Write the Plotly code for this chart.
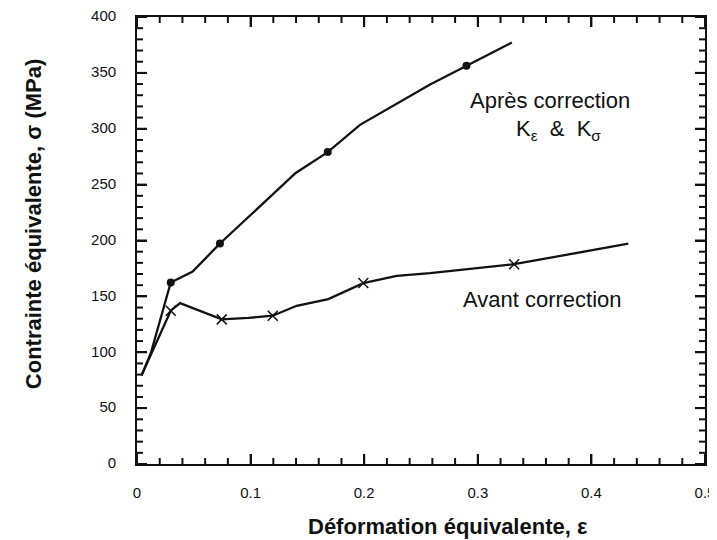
import plotly.graph_objects as go

# --- data ---
apres_x = [0.004, 0.012, 0.0297, 0.049, 0.073, 0.1397, 0.1679, 0.1963, 0.258, 0.290, 0.330]
apres_y = [79.3, 98.6, 162.4, 172.2, 197.3, 260.4, 279.1, 303.5, 339.7, 356.3, 377.1]
apres_marker_idx = [2, 4, 6, 9]

avant_x = [0.004, 0.0297, 0.0379, 0.0555, 0.0746, 0.098, 0.1195, 0.1406, 0.1684, 0.1992, 0.2286, 0.258, 0.293, 0.332, 0.4325]
avant_y = [79.3, 137.2, 144.0, 137.2, 129.4, 130.7, 132.7, 141.6, 147.6, 161.9, 168.4, 170.8, 174.3, 178.8, 197.1]
avant_marker_idx = [1, 4, 6, 9, 13]

x_ticks = [0, 0.1, 0.2, 0.3, 0.4, 0.5]
x_ticklabels = ["0", "0.1", "0.2", "0.3", "0.4", "0.5"]
x_minor_step = 0.02
y_ticks = [0, 50, 100, 150, 200, 250, 300, 350, 400]
y_ticklabels = ["0", "50", "100", "150", "200", "250", "300", "350", "400"]
y_minor_step = 10

x_title = "Déformation équivalente, ε"
y_title = "Contrainte équivalente, σ (MPa)"
label_apres = "Après correction"
label_k = "K<sub>ε</sub>  &amp;  K<sub>σ</sub>"
label_avant = "Avant correction"

INK = "#111111"
FONT = "Liberation Sans, Arial, sans-serif"

fig = go.Figure()
fig.add_trace(go.Scatter(x=apres_x, y=apres_y, mode="lines",
                         line=dict(color=INK, width=2.3), showlegend=False, hoverinfo="skip"))
fig.add_trace(go.Scatter(x=[apres_x[i] for i in apres_marker_idx],
                         y=[apres_y[i] for i in apres_marker_idx], mode="markers",
                         marker=dict(symbol="circle", size=8, color=INK), showlegend=False))
fig.add_trace(go.Scatter(x=avant_x, y=avant_y, mode="lines",
                         line=dict(color=INK, width=2.3), showlegend=False, hoverinfo="skip"))
fig.add_trace(go.Scatter(x=[avant_x[i] for i in avant_marker_idx],
                         y=[avant_y[i] for i in avant_marker_idx], mode="markers",
                         marker=dict(symbol="x-thin", size=10, color=INK,
                                     line=dict(color=INK, width=1.5)), showlegend=False))

axis_common = dict(
    showline=True, linecolor=INK, linewidth=1.8, mirror="allticks",
    ticks="inside", ticklen=10, tickwidth=2, tickcolor=INK,
    showgrid=False, zeroline=False, automargin=False, ticklabeloverflow="allow",
    tickfont=dict(family=FONT, size=15, color=INK),
)

fig.update_xaxes(range=[0, 0.5], tickmode="array", tickvals=x_ticks, ticktext=x_ticklabels,
                 ticklabelstandoff=14, **axis_common)
fig.update_yaxes(range=[0, 400], tickmode="array", tickvals=y_ticks, ticktext=y_ticklabels,
                 ticklabelstandoff=16, ticklabelshift=-1, **axis_common)

# inward tick marks on all four sides (major at each label, minor in between)
MAJOR_LEN, MINOR_LEN = 10, 6
n_x = int(round((x_ticks[-1] - x_ticks[0]) / x_minor_step))
for k in range(n_x + 1):
    xv = x_ticks[0] + k * x_minor_step
    major = any(abs(xv - t) < 1e-9 for t in x_ticks)
    ln = MAJOR_LEN if major else MINOR_LEN
    for anchor, sign in ((0, 1), (1, -1)):
        fig.add_shape(type="line", xref="x", yref="paper", ysizemode="pixel", yanchor=anchor,
                      x0=xv, x1=xv, y0=0, y1=sign * ln, line=dict(color=INK, width=2),
                      layer="above")
n_y = int(round((y_ticks[-1] - y_ticks[0]) / y_minor_step))
for k in range(n_y + 1):
    yv = y_ticks[0] + k * y_minor_step
    major = any(abs(yv - t) < 1e-9 for t in y_ticks)
    ln = MAJOR_LEN if major else MINOR_LEN
    for anchor, sign in ((0, 1), (1, -1)):
        fig.add_shape(type="line", xref="paper", yref="y", xsizemode="pixel", xanchor=anchor,
                      y0=yv, y1=yv, x0=0, x1=sign * ln, line=dict(color=INK, width=2),
                      layer="above")

title_font = dict(family=FONT, size=22, color=INK)
fig.add_annotation(xref="paper", yref="paper", x=0.5475, y=0, yshift=-62,
                   text=f"<b>{x_title}</b>", showarrow=False, font=title_font,
                   xanchor="center", yanchor="middle")
fig.add_annotation(xref="paper", yref="paper", x=-0.181, y=0.537, textangle=-90,
                   text=f"<b>{y_title}</b>", showarrow=False, font=title_font,
                   xanchor="center", yanchor="middle")

ann_font = dict(family=FONT, size=22, color=INK)
fig.add_annotation(x=0.3636, y=325, text=label_apres, showarrow=False, font=ann_font,
                   xanchor="center", yanchor="middle")
fig.add_annotation(x=0.371, y=299, text=label_k, showarrow=False, font=ann_font,
                   xanchor="center", yanchor="middle")
fig.add_annotation(x=0.357, y=147, text=label_avant, showarrow=False, font=ann_font,
                   xanchor="center", yanchor="middle")

# page body has an 8px default margin; size the figure so it sits where the reference does
fig.update_layout(
    width=709, height=532,
    margin=dict(l=129, r=12, t=9, b=76),
    paper_bgcolor="white", plot_bgcolor="white",
    font=dict(family=FONT, color=INK),
)

fig.write_html("out.html")
